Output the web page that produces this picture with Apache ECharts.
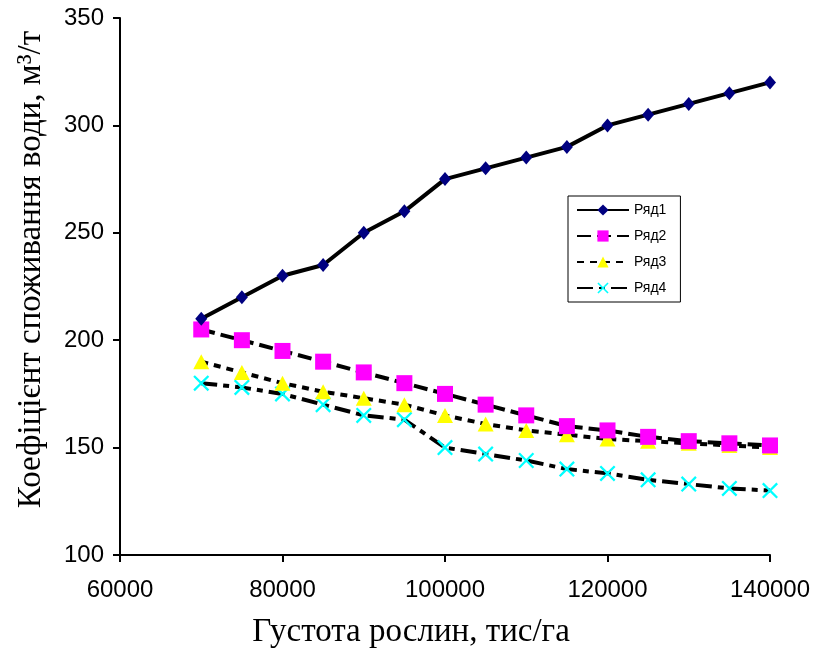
<!DOCTYPE html>
<html><head><meta charset="utf-8">
<script src="https://cdn.jsdelivr.net/npm/echarts@6/dist/echarts.min.js"></script>
<style>html,body{margin:0;padding:0;background:#fff}#c{width:815px;height:652px}</style>
</head><body><div id="c"></div>
<script>
var xValues = [70000,75000,80000,85000,90000,95000,100000,105000,110000,115000,120000,125000,130000,135000,140000];
var series1 = [210,220,230,235,250,260,275,280,285,290,300,305,310,315,320];
var series2 = [205,200,195,190,185,180,175,170,165,160,158,155,153,152,151];
var series3 = [190,185,180,176,173,170,165,161,158,156,154,153,152,151,150];
var series4 = [180,178,175,170,165,163,150,147,144,140,138,135,133,131,130];
var seriesNames = ['Ряд1','Ряд2','Ряд3','Ряд4'];
var xTitle = 'Густота рослин, тис/га';
var yTitle = 'Коефіцієнт споживання води, м³/т';

function pairs(v){ return xValues.map(function(x,i){ return [x, v[i]]; }); }
var xPath = 'path://M0,1L1,0L5,4L9,0L10,1L6,5L10,9L9,10L5,6L1,10L0,9L4,5Z';

var chart = echarts.init(document.getElementById('c'));
chart.setOption({
  animation:false,
  backgroundColor:'#fff',
  grid:{left:120,right:45,top:18,bottom:97,containLabel:false,outerBoundsMode:'none'},
  legend:{
    orient:'vertical', left:568, top:196, width:110,
    padding:[7,14,7,8], itemGap:12, itemWidth:52, itemHeight:14,
    borderColor:'#000', borderWidth:1,
    textStyle:{fontFamily:'Liberation Sans, Arial', fontSize:14, color:'#000'},
    data:seriesNames
  },
  xAxis:{
    type:'value', min:60000, max:140000, interval:20000,
    name:xTitle, nameLocation:'middle', nameGap:61,
    nameTextStyle:{fontFamily:'Liberation Serif, Times New Roman', fontSize:33, color:'#000', padding:[0,68,0,0]},
    axisLine:{lineStyle:{color:'#000',width:2}},
    axisTick:{show:true,inside:false,length:7,lineStyle:{color:'#000',width:2}},
    axisLabel:{fontFamily:'Liberation Sans, Arial', fontSize:24, color:'#000', margin:23,
      formatter:function(v){return String(v);}},
    splitLine:{show:false}
  },
  yAxis:{
    type:'value', min:100, max:350, interval:50,
    name:yTitle, nameLocation:'middle', nameGap:72,
    nameTextStyle:{fontFamily:'Liberation Serif, Times New Roman', fontSize:33, color:'#000', padding:[0,0,0,34]},
    axisLine:{show:true,lineStyle:{color:'#000',width:2}},
    axisTick:{show:true,inside:false,length:7,lineStyle:{color:'#000',width:2}},
    axisLabel:{fontFamily:'Liberation Sans, Arial', fontSize:24, color:'#000', margin:16},
    splitLine:{show:false}
  },
  series:[
    {name:seriesNames[0], type:'line', data:pairs(series1), symbol:'diamond', symbolSize:[12,14],
     itemStyle:{color:'#000080'}, lineStyle:{color:'#000',width:4,type:'solid'}, z:5},
    {name:seriesNames[1], type:'line', data:pairs(series2), symbol:'rect', symbolSize:16,
     itemStyle:{color:'#ff00ff'}, lineStyle:{color:'#000',width:4,type:[14,6]}, z:4},
    {name:seriesNames[2], type:'line', data:pairs(series3), symbol:'triangle', symbolSize:[16,15],
     itemStyle:{color:'#ffff00'}, lineStyle:{color:'#000',width:4,type:[7,6]}, z:3},
    {name:seriesNames[3], type:'line', data:pairs(series4), symbol:xPath, symbolSize:16,
     itemStyle:{color:'#00ffff'}, lineStyle:{color:'#000',width:4,type:[16,6,6,6]}, z:2}
  ]
});
</script></body></html>
